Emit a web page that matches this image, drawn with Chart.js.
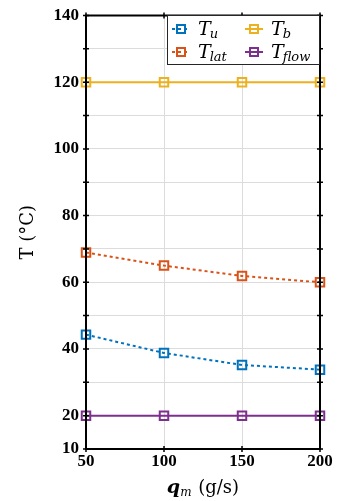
<!DOCTYPE html>
<html><head><meta charset="utf-8">
<script src="https://cdn.jsdelivr.net/npm/chart.js@4/dist/chart.umd.min.js"></script>
<style>html,body{margin:0;padding:0;background:#fff}#wrap{width:338px;height:501px}</style>
</head><body><div id="wrap"><canvas id="c" width="338" height="501"></canvas></div>
<script>
const qm = [50, 100, 150, 200];
const Tu = [44.3, 38.8, 35.2, 33.8];
const Tlat = [68.9, 65.0, 61.9, 60.0];
const Tb = [120, 120, 120, 120];
const Tflow = [20, 20, 20, 20];
const yTickLabels = [10, 20, 40, 60, 80, 100, 120, 140];
const xTickLabels = [50, 100, 150, 200];
const seriesNames = [['T','u'], ['T','lat'], ['T','b'], ['T','flow']];

const FONT = '"DejaVu Serif", "Liberation Serif", serif';
const TFONT = '"Liberation Serif", "DejaVu Serif", serif';
const colors = ['#0072BD', '#D95319', '#EDB120', '#7E2F8E'];

function mk(label, data, color, dashed) {
  return {
    label: label,
    data: data.map((v, i) => ({x: qm[i], y: v})),
    borderColor: color,
    backgroundColor: 'rgba(0,0,0,0)',
    borderWidth: 2,
    borderDash: dashed ? [3, 3] : [],
    pointStyle: 'rect',
    pointRadius: 6,
    pointHoverRadius: 6,
    pointBorderWidth: 2,
    pointBorderColor: color,
    pointBackgroundColor: 'rgba(0,0,0,0)',
    clip: false,
    tension: 0
  };
}

function drawSub(ctx, x, y, main, sub, size, subSize) {
  ctx.save();
  ctx.textBaseline = 'alphabetic';
  ctx.font = 'italic ' + size + 'px ' + FONT;
  const w1 = ctx.measureText(main).width;
  ctx.fillText(main, x, y);
  ctx.font = 'italic ' + subSize + 'px ' + FONT;
  ctx.fillText(sub, x + w1 - 1, y + 3);
  ctx.restore();
}

const deco = {
  id: 'deco',
  afterDatasetsDraw(chart) {
    const ctx = chart.ctx, a = chart.chartArea;
    const xs = chart.scales.x, ys = chart.scales.y;
    ctx.save();
    ctx.strokeStyle = '#000';
    ctx.lineWidth = 2;
    ctx.strokeRect(a.left, a.top, a.right - a.left, a.bottom - a.top);
    ctx.lineWidth = 1.5;
    ctx.beginPath();
    for (let v = 10; v <= 140; v += 10) {
      const y = ys.getPixelForValue(v);
      ctx.moveTo(a.left - 3, y); ctx.lineTo(a.left + 3, y);
      ctx.moveTo(a.right - 3, y); ctx.lineTo(a.right + 3, y);
    }
    for (const v of xTickLabels) {
      const x = xs.getPixelForValue(v);
      ctx.moveTo(x, a.bottom - 3); ctx.lineTo(x, a.bottom + 3);
      ctx.moveTo(x, a.top - 3); ctx.lineTo(x, a.top + 3);
    }
    ctx.stroke();

    // legend
    const lx = 167, ly = 15, lw = 153, lh = 50;
    ctx.fillStyle = '#fff';
    ctx.fillRect(lx, ly, lw, lh);
    ctx.strokeStyle = '#262626';
    ctx.lineWidth = 1;
    ctx.strokeRect(lx + 0.5, ly + 0.5, lw - 1, lh - 1);
    const pos = [[172, 29], [172, 52], [245, 29], [245, 52]];
    chart.data.datasets.forEach((ds, i) => {
      const [px, py] = pos[i];
      ctx.save();
      ctx.strokeStyle = ds.borderColor;
      ctx.lineWidth = 2;
      ctx.setLineDash(ds.borderDash);
      ctx.beginPath(); ctx.moveTo(px, py); ctx.lineTo(px + 18, py); ctx.stroke();
      ctx.setLineDash([]);
      ctx.strokeRect(px + 5, py - 4, 8, 8);
      ctx.restore();
      ctx.fillStyle = '#000';
      drawSub(ctx, px + 26, py + 6, seriesNames[i][0], seriesNames[i][1], 19, 13);
    });

    // axis titles
    ctx.fillStyle = '#000';
    ctx.save();
    ctx.translate(28, (a.top + a.bottom) / 2);
    ctx.rotate(-Math.PI / 2);
    ctx.font = '18px ' + FONT;
    ctx.textAlign = 'center';
    ctx.textBaseline = 'middle';
    ctx.fillText('T (°C)', 0, 0);
    ctx.restore();

    ctx.save();
    const cx = (a.left + a.right) / 2, by = 495;
    ctx.textBaseline = 'alphabetic';
    ctx.font = 'bold italic 19px ' + FONT;
    const wq = ctx.measureText('q').width;
    ctx.font = 'italic 12px ' + FONT;
    const wm = ctx.measureText('m').width;
    ctx.font = '18px ' + FONT;
    const wr = ctx.measureText(' (g/s)').width;
    let x0 = cx - (wq + wm + 1 + wr) / 2;
    ctx.font = 'bold italic 19px ' + FONT;
    ctx.fillText('q', x0, by - 2);
    ctx.font = 'italic 12px ' + FONT;
    ctx.fillText('m', x0 + wq, by + 1);
    ctx.font = '18px ' + FONT;
    ctx.fillText(' (g/s)', x0 + wq + wm + 1, by - 2);
    ctx.restore();
    ctx.restore();
  }
};

new Chart(document.getElementById('c'), {
  type: 'line',
  data: {
    datasets: [
      mk('T_u', Tu, colors[0], true),
      mk('T_lat', Tlat, colors[1], true),
      mk('T_b', Tb, colors[2], false),
      mk('T_flow', Tflow, colors[3], false)
    ]
  },
  plugins: [deco],
  options: {
    responsive: false,
    animation: false,
    layout: {padding: {left: 0, right: 18, top: 15, bottom: 0}},
    plugins: {legend: {display: false}, tooltip: {enabled: false}},
    scales: {
      x: {
        type: 'linear', min: 50, max: 200,
        afterFit: s => { s.height = 52; },
        border: {display: false},
        grid: {color: '#dcdcdc', lineWidth: 1, drawTicks: false},
        ticks: {
          stepSize: 50, padding: 4, color: '#000',
          font: {family: TFONT, size: 17, weight: 'bold', lineHeight: 1},
          callback: v => xTickLabels.includes(v) ? String(v) : ''
        }
      },
      y: {
        min: 10, max: 140,
        afterFit: s => { s.width = 86; },
        border: {display: false},
        grid: {color: '#dcdcdc', lineWidth: 1, drawTicks: false},
        ticks: {
          stepSize: 10, padding: 7, color: '#000', autoSkip: false,
          font: {family: TFONT, size: 17, weight: 'bold', lineHeight: 1},
          callback: v => yTickLabels.includes(v) ? String(v) : ''
        }
      }
    }
  }
});
</script></body></html>
